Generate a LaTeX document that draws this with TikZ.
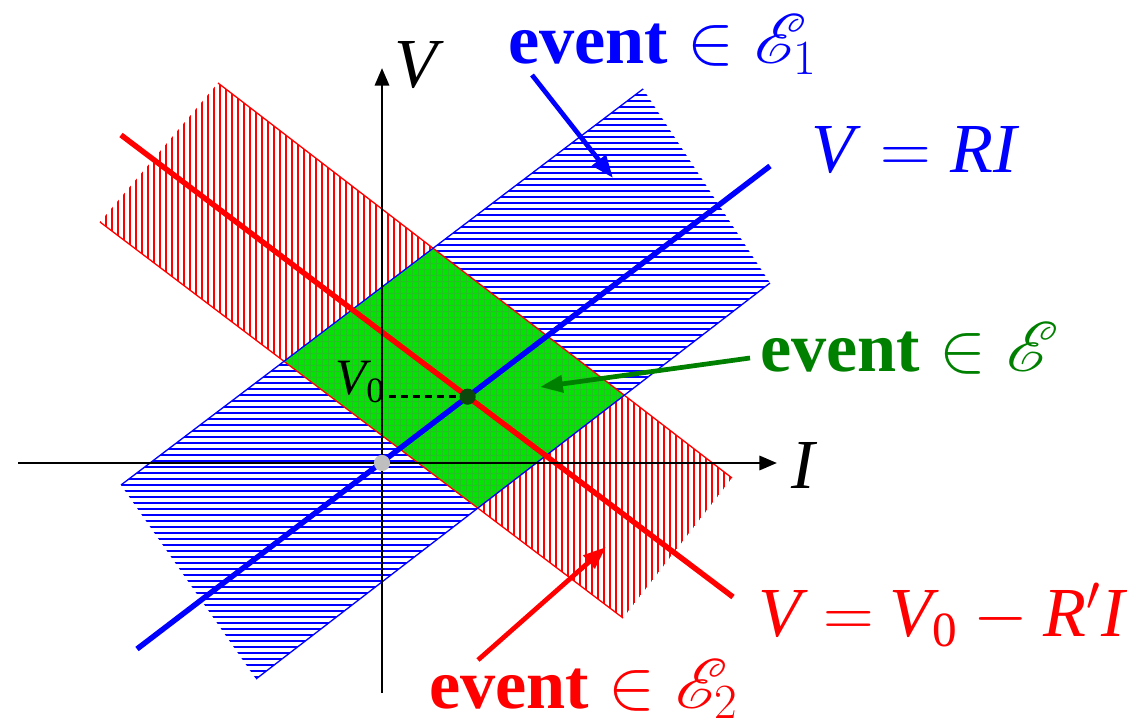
\documentclass[tikz,border=0pt]{standalone}
\usepackage{fix-cm}
\usepackage{fontspec}
\setmainfont{Liberation Serif}
\usepackage{mathrsfs}
\DeclareFontFamily{U}{rsfs}{\skewchar\font127 }
\DeclareFontShape{U}{rsfs}{m}{n}{<-6> rsfs5 <6-8> rsfs7 <8-> rsfs10}{}
\usetikzlibrary{arrows.meta}
\newcommand{\bigfont}{\fontsize{40}{48}\selectfont}
\newcommand{\midfont}{\fontsize{29}{34}\selectfont}
\newcommand{\Vnull}{\textit{V}\kern-0.1em\textsubscript{0}}
\definecolor{evgreen}{RGB}{0,128,0}
\definecolor{greenfill}{RGB}{0,230,0}
\definecolor{gridgreen}{RGB}{40,190,40}
\definecolor{dotgreen}{RGB}{12,72,12}
\tikzset{
  hatchred/.style={red, line width=0.85pt},
  hatchblue/.style={blue, line width=0.85pt},
  gridline/.style={gridgreen, line width=0.5pt},
  bandedge/.style={line width=0.75pt},
  thickline/.style={line width=3.1pt},
  axisline/.style={line width=1.7pt, -{Triangle[length=10pt,width=8pt]}},
  pointer/.style={line width=2.7pt, -{Triangle[length=13pt,width=9.5pt]}},
  lbl/.style={anchor=base west, inner sep=0pt, font=\bigfont},
}
\begin{document}
\begin{tikzpicture}[x=0.02cm,y=-0.02cm]
\useasboundingbox (0,0) rectangle (1142,722);
% band corners
\coordinate (r1) at (218,83);
\coordinate (r2) at (732,478);
\coordinate (r3) at (623,618);
\coordinate (r4) at (100,222);
\coordinate (b1) at (121,485);
\coordinate (b2) at (643,89);
\coordinate (b3) at (770,283);
\coordinate (b4) at (256,679);
% red hatched band
\begin{scope}
  \clip (r1) -- (r2) -- (r3) -- (r4) -- cycle;
  \foreach \x in {100,106,...,736} \draw[hatchred] (\x,80) -- (\x,622);
\end{scope}
% blue hatched band
\begin{scope}
  \clip (b1) -- (b2) -- (b3) -- (b4) -- cycle;
  \foreach \y in {89,95,...,683} \draw[hatchblue] (118,\y) -- (772,\y);
\end{scope}
% green intersection
\begin{scope}
  \clip (b1) -- (b2) -- (b3) -- (b4) -- cycle;
  \clip (r1) -- (r2) -- (r3) -- (r4) -- cycle;
  \fill[greenfill] (0,0) rectangle (1142,722);
  \foreach \x in {100,106,...,736} \draw[gridline] (\x,80) -- (\x,690);
  \foreach \y in {89,95,...,683} \draw[gridline] (100,\y) -- (772,\y);
\end{scope}
% band edges
\draw[bandedge, red] (r1) -- (r2);
\draw[bandedge, red] (r4) -- (r3);
\draw[bandedge, blue] (b1) -- (b2);
\draw[bandedge, blue] (b4) -- (b3);
% characteristic lines
\coordinate (bl1) at (137,649);
\coordinate (bl2) at (770,166);
\coordinate (rl1) at (121,135);
\coordinate (rl2) at (733,597);
\draw[thickline, blue] (bl1) -- (bl2);
\draw[thickline, red] (rl1) -- (rl2);
% axes
\coordinate (o) at (382,463);
\coordinate (xs) at (18,463);
\coordinate (xe) at (777,463);
\coordinate (ys) at (382,693);
\coordinate (ye) at (382,68);
\draw[axisline] (xs) -- (xe);
\draw[axisline] (ys) -- (ye);
% operating point
\coordinate (v0) at (intersection of bl1--bl2 and rl1--rl2);
\coordinate (vax) at (388,463);
\draw[line width=1.4pt, dash pattern=on 4pt off 2.8pt] (v0) -- (v0 -| vax);
\fill[dotgreen] (v0) circle[radius=4.6pt];
\fill[black!25] (o) circle[radius=4.6pt];
% labels
\node[lbl] (Vlab) at (394,88) {\textit{V}};
\node[lbl] (Ilab) at (791,488) {\textit{I}};
\node[lbl, blue] (eq1) at (811,173) {\textit{V}$\;=\;$\textit{RI}};
\node[lbl, blue] (ev1) at (508,64) {\textbf{event}$\;\in\mathscr{E}_1$};
\node[lbl, evgreen] (ev) at (760,372) {\textbf{event}$\;\in\mathscr{E}$};
\node[lbl, red] (eq2) at (758,636) {\textit{V}$\:=\:$\Vnull$\:-\:$\textit{R}$'$\textit{I}};
\node[lbl, red] (ev2) at (429,708) {\textbf{event}$\;\in\mathscr{E}_2$};
\node[lbl, font=\midfont] (v0lab) at (335,395) {\Vnull};
% pointers
\coordinate (p1s) at (532,75);
\coordinate (p1e) at (613,178);
\coordinate (p2s) at (750,358);
\coordinate (p2e) at (540,387);
\coordinate (p3s) at (478,660);
\coordinate (p3e) at (606,547);
\draw[pointer, blue] (p1s) -- (p1e);
\draw[pointer, evgreen] (p2s) -- (p2e);
\draw[pointer, red] (p3s) -- (p3e);
\end{tikzpicture}
\end{document}
